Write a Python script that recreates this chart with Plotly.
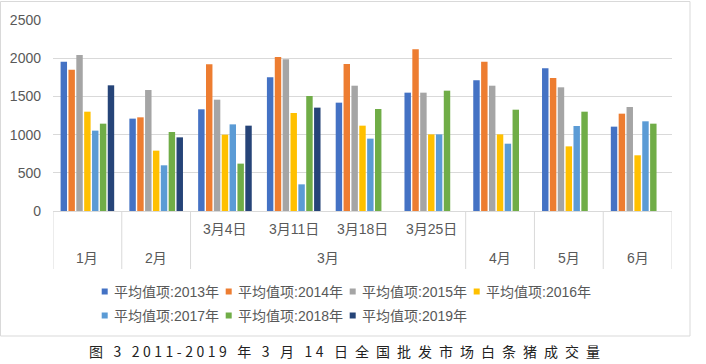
import plotly.graph_objects as go

# ---------------- data ----------------
categories = ["1月", "2月", "3月4日", "3月11日", "3月18日", "3月25日", "4月", "5月", "6月"]
inner_labels = ["", "", "3月4日", "3月11日", "3月18日", "3月25日", "", "", ""]
outer_labels = ["1月", "2月", "3月", "4月", "5月", "6月"]
outer_first = [0, 1, 2, 6, 7, 8]
outer_last = [0, 1, 5, 6, 7, 8]

series_names = ["平均值项:2013年", "平均值项:2014年", "平均值项:2015年", "平均值项:2016年",
                "平均值项:2017年", "平均值项:2018年", "平均值项:2019年"]
v2013 = [1955, 1209, 1331, 1750, 1418, 1549, 1710, 1867, 1104]
v2014 = [1850, 1226, 1920, 2016, 1924, 2116, 1955, 1741, 1274]
v2015 = [2042, 1584, 1457, 1985, 1640, 1549, 1640, 1619, 1361]
v2016 = [1300, 790, 999, 1283, 1117, 1003, 1003, 846, 729]
v2017 = [1052, 598, 1134, 349, 947, 1003, 881, 1113, 1174]
v2018 = [1143, 1034, 620, 1505, 1335, 1575, 1326, 1300, 1143]
v2019 = [1645, 964, 1117, 1353, None, None, None, None, None]
series_values = [v2013, v2014, v2015, v2016, v2017, v2018, v2019]

caption = "图 3 2011-2019 年 3 月 14 日全国批发市场白条猪成交量"

# ---------------- style ----------------
colors = ["#4472C4", "#ED7D31", "#A5A5A5", "#FFC000", "#5B9BD5", "#70AD47", "#264478"]
W, H = 706, 364
ML, MR, MT, MB = 53, 34, 20, 153
PW, PH = W - ML - MR, H - MT - MB
FONT = "Liberation Sans, Noto Sans CJK SC, sans-serif"
GREY = "#595959"
LINE = "#d9d9d9"


def px_x(px):
    return (px - ML) / PW


def px_y(py):
    return (H - MB - py) / PH


fig = go.Figure()
for name, vals, col in zip(series_names, series_values, colors):
    fig.add_trace(go.Bar(name=name, x=categories, y=vals, marker_color=col,
                         marker_line_width=0, showlegend=False))

shapes = []
for i in range(len(outer_labels)):
    shapes.append(dict(type="line", xref="x", yref="paper",
                       x0=outer_first[i] - 0.5, x1=outer_first[i] - 0.5,
                       y0=0, y1=px_y(269), line=dict(color=LINE, width=1)))
shapes.append(dict(type="line", xref="x", yref="paper",
                   x0=outer_last[-1] + 0.5, x1=outer_last[-1] + 0.5,
                   y0=0, y1=px_y(269), line=dict(color=LINE, width=1)))
shapes.append(dict(type="rect", xref="paper", yref="paper",
                   x0=px_x(0.5), x1=px_x(690), y0=px_y(336), y1=px_y(1.5),
                   line=dict(color=LINE, width=1)))

annotations = []
LABFONT = dict(size=14, color=GREY, family=FONT)
for c, lab in zip(categories, inner_labels):
    if lab:
        annotations.append(dict(x=c, y=px_y(229), xref="x", yref="paper", text=lab,
                                showarrow=False, yanchor="middle", xanchor="center",
                                font=LABFONT))
for lab, a, b in zip(outer_labels, outer_first, outer_last):
    annotations.append(dict(x=(a + b) / 2, y=px_y(258), xref="x", yref="paper", text=lab,
                            showarrow=False, yanchor="middle", xanchor="center",
                            font=LABFONT))

# legend (Excel style: small square right before the text), 4 + 3 entries
LEG_X0, LEG_DX, LEG_ROWS, LEG_PER_ROW, SQ = 101.7, 124, [291.5, 315.5], 4, 6
for i, (name, col) in enumerate(zip(series_names, colors)):
    r, k = divmod(i, LEG_PER_ROW)
    sx, sy = LEG_X0 + k * LEG_DX, LEG_ROWS[r]
    shapes.append(dict(type="rect", xref="paper", yref="paper",
                       x0=px_x(sx), x1=px_x(sx + SQ), y0=px_y(sy + SQ / 2), y1=px_y(sy - SQ / 2),
                       fillcolor=col, line=dict(width=0)))
    annotations.append(dict(x=px_x(sx + SQ + 4), y=px_y(sy), xref="paper", yref="paper",
                            text=name, showarrow=False, xanchor="left", yanchor="middle",
                            font=dict(size=14, color=GREY, family=FONT)))


def spaced(s):
    out = []
    for k, ch in enumerate(s):
        nxt = s[k + 1] if k + 1 < len(s) else ""
        if ch == " ":
            out.append("\u2002\u2005")
            continue
        out.append(ch)
        if not nxt or nxt == " ":
            continue
        out.append("\u2005" if (ch.isascii() and nxt.isascii()) else "\u2002")
    return "".join(out)


annotations.append(dict(x=px_x(344), y=px_y(350.5), xref="paper", yref="paper",
                        text=spaced(caption), showarrow=False, xanchor="center",
                        yanchor="middle",
                        font=dict(size=14, color="#222222", family="Noto Sans CJK SC")))

fig.update_layout(
    width=W, height=H,
    margin=dict(l=ML, r=MR, t=MT, b=MB, pad=0, autoexpand=False),
    paper_bgcolor="white", plot_bgcolor="white",
    barmode="group", bargap=0.2, bargroupgap=0.18,
    font=dict(family=FONT, color=GREY),
    showlegend=False,
    xaxis=dict(type="category", showticklabels=False, showline=True, linecolor=LINE,
               linewidth=1, showgrid=False, range=[-0.5, 8.5], ticks=""),
    yaxis=dict(range=[0, 2500], dtick=500, showgrid=True, gridcolor=LINE, gridwidth=1,
               zeroline=False, showline=False, ticks="", ticklabelstandoff=11,
               tickfont=dict(size=14, color=GREY, family=FONT)),
    shapes=shapes, annotations=annotations,
)

fig.write_html("out.html", config={"displayModeBar": False},
               post_script="document.body.style.margin='0px';")
